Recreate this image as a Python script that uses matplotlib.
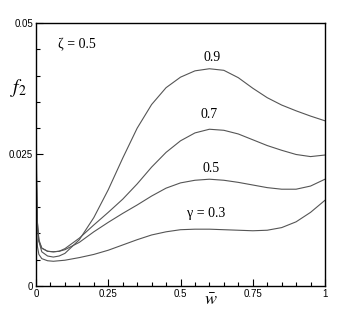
import matplotlib
matplotlib.use("Agg")
import matplotlib.pyplot as plt
import numpy as np
from matplotlib.ticker import MultipleLocator

plt.rcParams['mathtext.fontset'] = 'stix'

# values
w_03 = [0.0, 0.002, 0.005, 0.01, 0.02, 0.04, 0.06, 0.1, 0.15, 0.2, 0.25, 0.3, 0.35, 0.4, 0.45, 0.5, 0.55, 0.6, 0.65, 0.7, 0.75, 0.8, 0.85, 0.9, 0.95, 1.0]
f_03 = [0.02, 0.011, 0.0075, 0.006, 0.0052, 0.0048, 0.0047, 0.0049, 0.0054, 0.0060, 0.0068, 0.0078, 0.0088, 0.0097, 0.0103, 0.0107, 0.0108, 0.0108, 0.0107, 0.0106, 0.0105, 0.0106, 0.0111, 0.0122, 0.0140, 0.0163]

w_05 = [0.0, 0.002, 0.005, 0.01, 0.02, 0.04, 0.06, 0.08, 0.1, 0.15, 0.2, 0.25, 0.3, 0.35, 0.4, 0.45, 0.5, 0.55, 0.6, 0.65, 0.7, 0.75, 0.8, 0.85, 0.9, 0.95, 1.0]
f_05 = [0.03, 0.017, 0.011, 0.0085, 0.0072, 0.0066, 0.0065, 0.0066, 0.0069, 0.0083, 0.0103, 0.0121, 0.0138, 0.0154, 0.0171, 0.0186, 0.0196, 0.0201, 0.0203, 0.0201, 0.0197, 0.0192, 0.0187, 0.0184, 0.0184, 0.0190, 0.0203]

w_07 = [0.0, 0.002, 0.005, 0.01, 0.02, 0.04, 0.06, 0.08, 0.1, 0.15, 0.2, 0.25, 0.3, 0.35, 0.4, 0.45, 0.5, 0.55, 0.6, 0.65, 0.7, 0.75, 0.8, 0.85, 0.9, 0.95, 1.0]
f_07 = [0.04, 0.02, 0.012, 0.0088, 0.0072, 0.0066, 0.0065, 0.0066, 0.0071, 0.0091, 0.0116, 0.0140, 0.0165, 0.0194, 0.0226, 0.0254, 0.0276, 0.0291, 0.0298, 0.0296, 0.0289, 0.0278, 0.0267, 0.0258, 0.0250, 0.0246, 0.0249]

w_09 = [0.0, 0.002, 0.005, 0.01, 0.02, 0.04, 0.06, 0.08, 0.1, 0.15, 0.2, 0.25, 0.3, 0.35, 0.4, 0.45, 0.5, 0.55, 0.6, 0.65, 0.7, 0.75, 0.8, 0.85, 0.9, 0.95, 1.0]
f_09 = [0.05, 0.022, 0.012, 0.0085, 0.0065, 0.0057, 0.0055, 0.0057, 0.0062, 0.0088, 0.0130, 0.0183, 0.0243, 0.0300, 0.0345, 0.0377, 0.0397, 0.0409, 0.0413, 0.0410, 0.0396, 0.0376, 0.0358, 0.0344, 0.0333, 0.0323, 0.0314]

series = [(w_03, f_03), (w_05, f_05), (w_07, f_07), (w_09, f_09)]
gamma_labels = ["\u03b3 = 0.3", "0.5", "0.7", "0.9"]
label_pos = [(0.59, 0.0137), (0.605, 0.0224), (0.60, 0.0326), (0.61, 0.0435)]

fig = plt.figure(figsize=(3.54, 3.14), dpi=100)
ax = fig.add_axes([0.1017, 0.0892, 0.8164, 0.8376])

for (w, f) in series:
    ax.plot(w, f, color="#555555", lw=0.8)

serif = "Liberation Serif"
for lab, (x, y) in zip(gamma_labels, label_pos):
    ax.text(x, y, lab, family=serif, fontsize=10, ha="center", va="center")
ax.text(0.14, 0.0458, "\u03b6 = 0.5", family=serif, fontsize=10, ha="center", va="center")

ax.set_xlim(0, 1)
ax.set_ylim(0, 0.05)
ax.set_xticks([0, 0.25, 0.5, 0.75, 1])
ax.set_xticklabels(["0", "0.25", "0.5", "0.75", "1"])
ax.set_yticks([0, 0.025, 0.05])
ax.set_yticklabels(["0", "0.025", "0.05"])
ax.xaxis.set_minor_locator(MultipleLocator(0.05))
ax.yaxis.set_minor_locator(MultipleLocator(0.005))
ax.tick_params(which="both", direction="in", top=False, right=False,
               labelsize=7, labelfontfamily="Liberation Sans", pad=2)
ax.tick_params(which="major", length=5, width=0.8)
ax.tick_params(which="minor", length=3, width=0.8)
for s in ax.spines.values():
    s.set_linewidth(1.0)

fig.text(0.596, 0.043, r"$\bar{w}$", fontsize=13, ha="center", va="center")
fig.text(0.051, 0.72, r"$f_2$", fontsize=14, ha="center", va="center")

fig.savefig("out.png", dpi=100)
